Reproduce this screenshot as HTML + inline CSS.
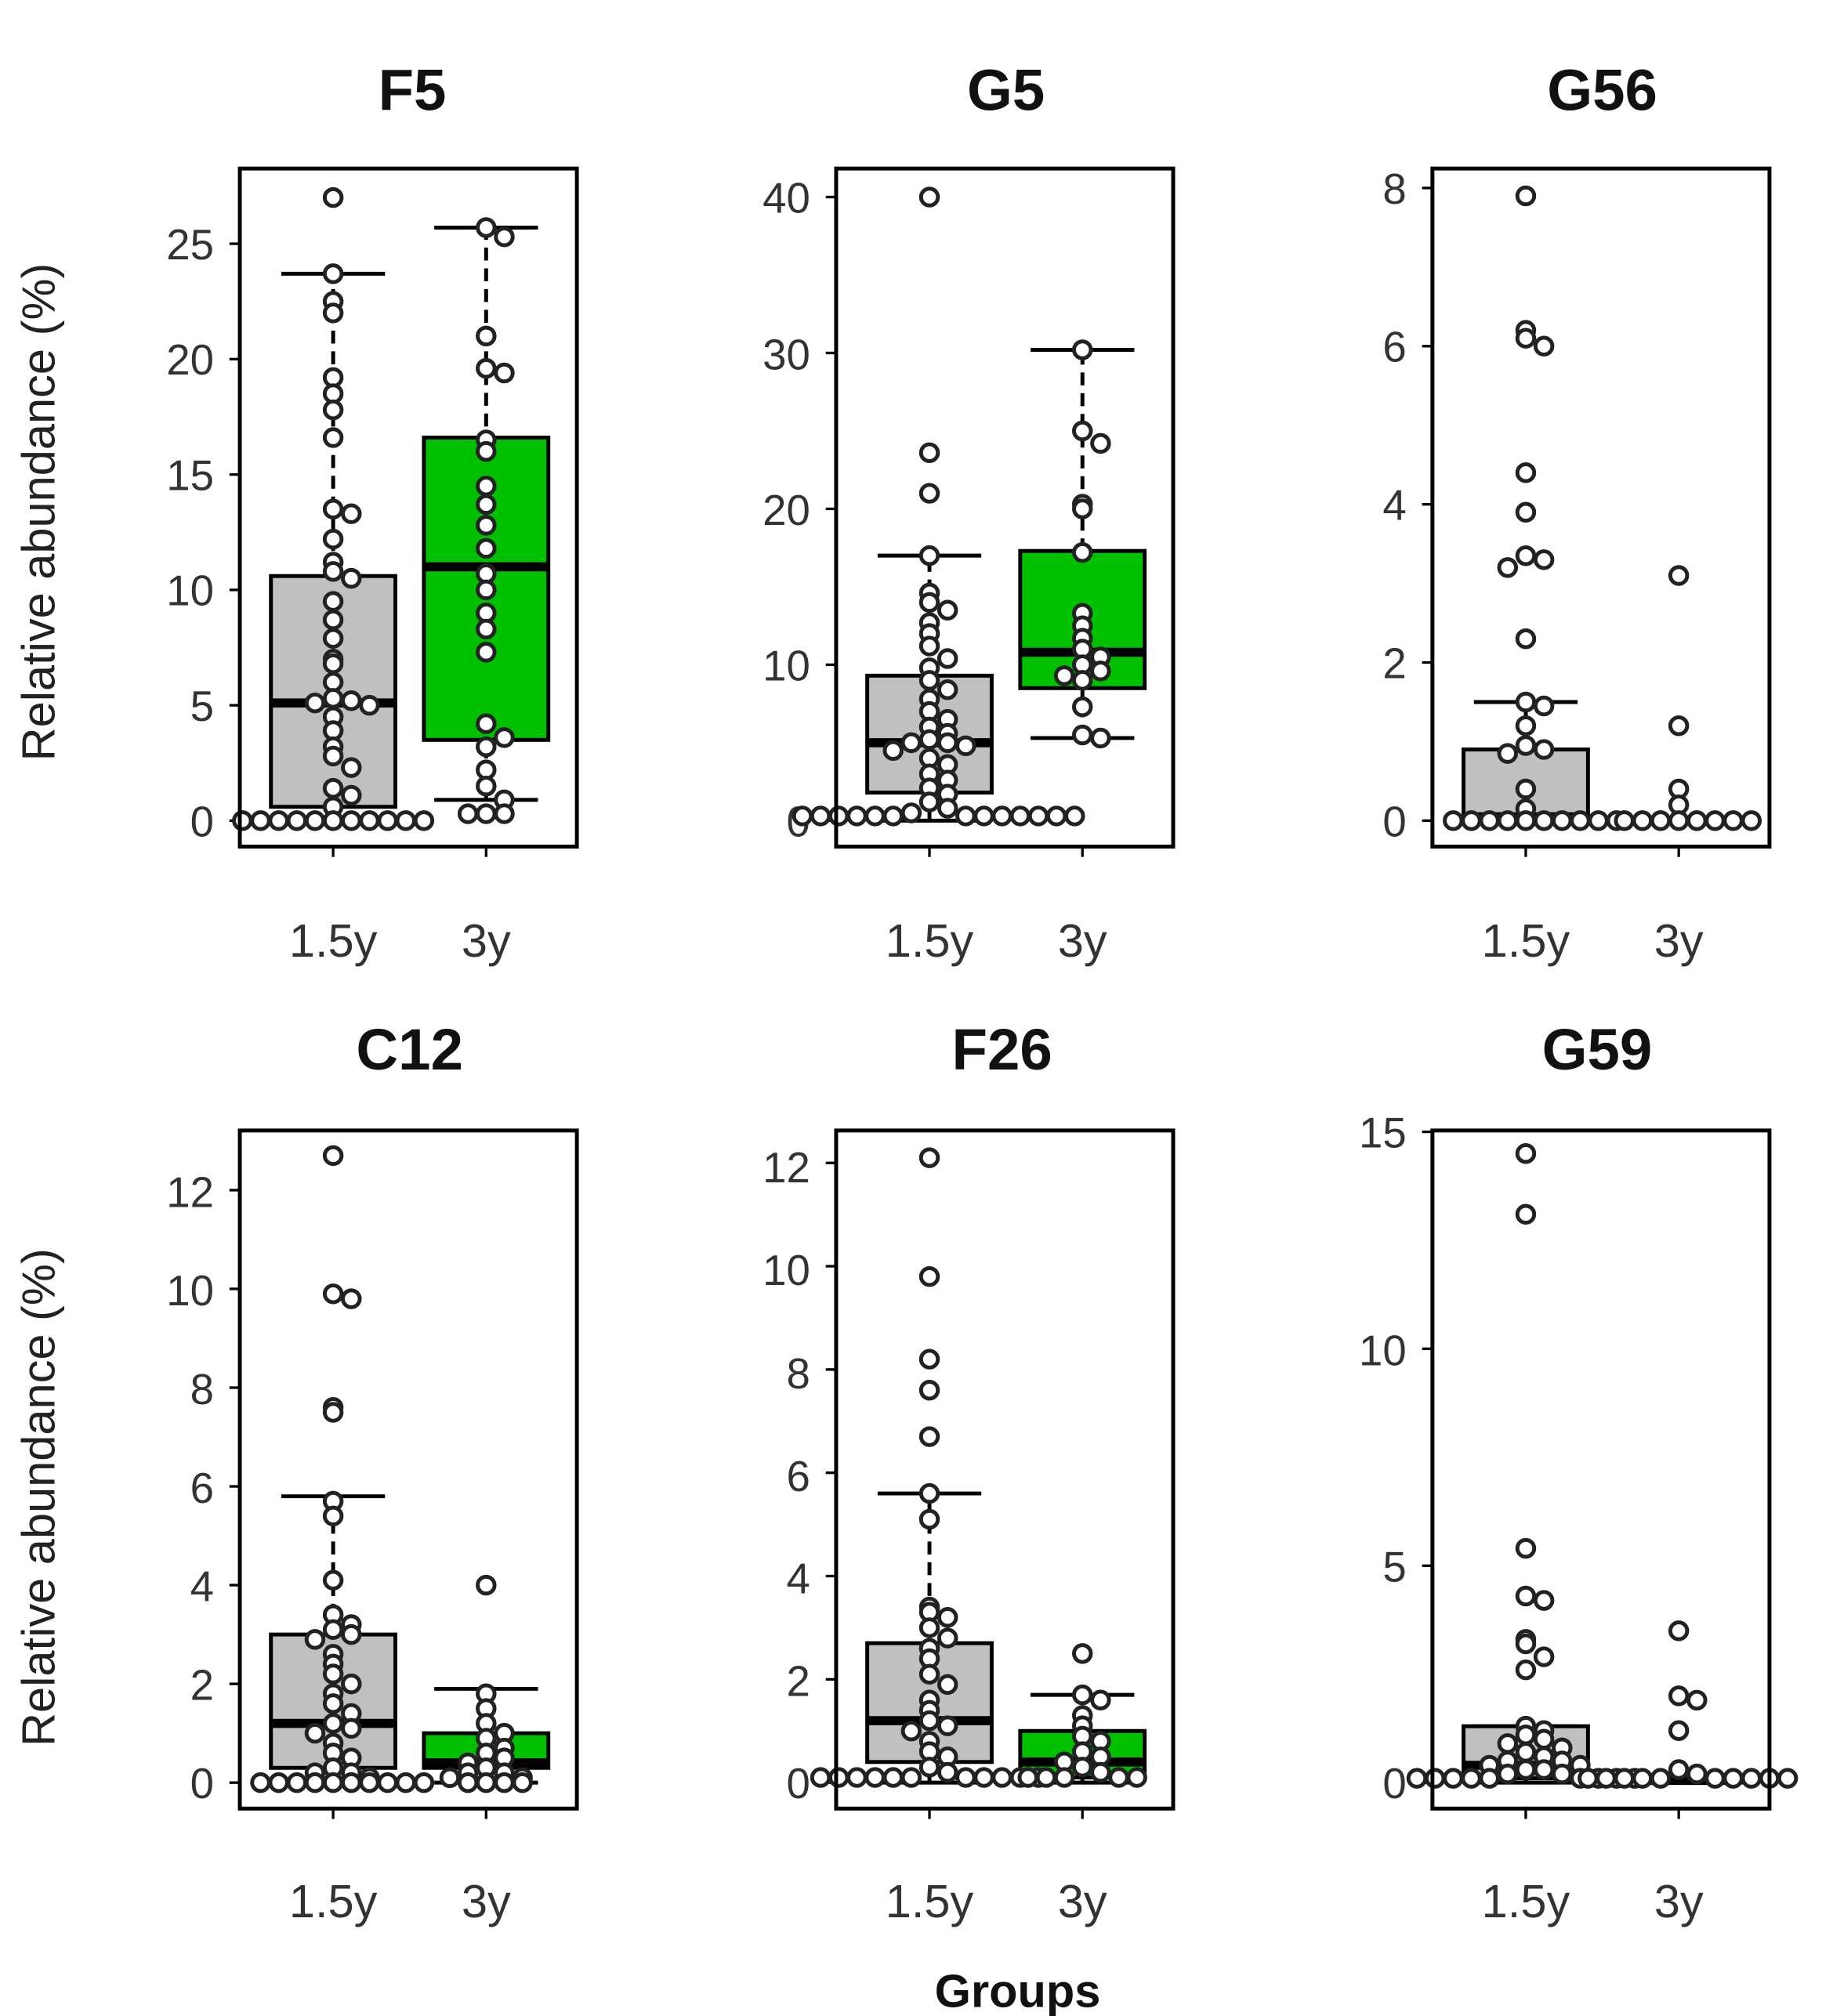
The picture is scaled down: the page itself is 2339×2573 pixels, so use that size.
<!DOCTYPE html>
<html><head><meta charset="utf-8">
<style>html,body{margin:0;padding:0;background:#fff}svg{display:block}</style>
</head><body>
<svg id="s" width="2339" height="2573" viewBox="0 0 1414 1555" preserveAspectRatio="none" xmlns="http://www.w3.org/2000/svg" font-family="'Liberation Sans', sans-serif">
<g font-weight="bold" font-size="45" text-anchor="middle" fill="#111">
<text x="318" y="85">F5</text><text x="776" y="85">G5</text><text x="1236" y="85">G56</text>
<text x="316" y="825">C12</text><text x="773" y="825">F26</text><text x="1232" y="825">G59</text>
</g>
<g font-size="36" fill="#222" text-anchor="middle">
<text transform="translate(42,395) rotate(-90)">Relative abundance (%)</text>
<text transform="translate(42,1155) rotate(-90)">Relative abundance (%)</text>
<text x="785" y="1548" font-weight="bold" fill="#111">Groups</text>
<text x="257" y="738" fill="#333">1.5y</text><text x="375" y="738" fill="#333">3y</text>
<text x="717" y="738" fill="#333">1.5y</text><text x="835" y="738" fill="#333">3y</text>
<text x="1177" y="738" fill="#333">1.5y</text><text x="1295" y="738" fill="#333">3y</text>
<text x="257" y="1479" fill="#333">1.5y</text><text x="375" y="1479" fill="#333">3y</text>
<text x="717" y="1479" fill="#333">1.5y</text><text x="835" y="1479" fill="#333">3y</text>
<text x="1177" y="1479" fill="#333">1.5y</text><text x="1295" y="1479" fill="#333">3y</text>
</g>
<g font-size="33" fill="#333" text-anchor="end">
<text x="165" y="645">0</text><text x="165" y="556">5</text><text x="165" y="467">10</text><text x="165" y="378">15</text><text x="165" y="289">20</text><text x="165" y="200">25</text>
<text x="625" y="645">0</text><text x="625" y="525">10</text><text x="625" y="405">20</text><text x="625" y="285">30</text><text x="625" y="164">40</text>
<text x="1085" y="645">0</text><text x="1085" y="523">2</text><text x="1085" y="401">4</text><text x="1085" y="279">6</text><text x="1085" y="157">8</text>
<text x="165" y="1387">0</text><text x="165" y="1311">2</text><text x="165" y="1235">4</text><text x="165" y="1159">6</text><text x="165" y="1083">8</text><text x="165" y="1007">10</text><text x="165" y="931">12</text>
<text x="625" y="1387">0</text><text x="625" y="1308">2</text><text x="625" y="1229">4</text><text x="625" y="1150">6</text><text x="625" y="1071">8</text><text x="625" y="991">10</text><text x="625" y="912">12</text>
<text x="1085" y="1387">0</text><text x="1085" y="1220">5</text><text x="1085" y="1053">10</text><text x="1085" y="885">15</text>
</g>
<g id="plots"></g>
</svg>
<script>
var NS="http://www.w3.org/2000/svg",G=document.getElementById("plots");
function el(t,a){var e=document.createElementNS(NS,t);for(var k in a)e.setAttribute(k,a[k]);G.appendChild(e);return e;}
function panel(L,T,B,y0,y1,v1,ticks,boxes,pts){
 var sc=function(v){return y0-(y0-y1)*v/v1;};
 ticks.forEach(function(t){el("line",{x1:L-8,x2:L,y1:sc(t),y2:sc(t),stroke:"#000","stroke-width":2});});
 [72,190].forEach(function(o){el("line",{x1:L+o,x2:L+o,y1:B,y2:B+8,stroke:"#000","stroke-width":2});});
 boxes.forEach(function(b,i){var cx=L+(i?190:72);
  el("line",{x1:cx,x2:cx,y1:sc(b[3]),y2:sc(b[1]),stroke:"#000","stroke-width":3,"stroke-dasharray":"10,6"});
  el("line",{x1:cx,x2:cx,y1:sc(b[0]),y2:sc(b[4]),stroke:"#000","stroke-width":3,"stroke-dasharray":"10,6"});
  el("line",{x1:cx-40,x2:cx+40,y1:sc(b[4]),y2:sc(b[4]),stroke:"#000","stroke-width":3});
  el("line",{x1:cx-40,x2:cx+40,y1:sc(b[0]),y2:sc(b[0]),stroke:"#000","stroke-width":3});
  el("rect",{x:cx-48,y:sc(b[3]),width:96,height:Math.max(1,sc(b[1])-sc(b[3])),fill:i?"#00c000":"#c0c0c0",stroke:"#000","stroke-width":3});
  el("line",{x1:cx-48,x2:cx+48,y1:sc(b[2]),y2:sc(b[2]),stroke:"#000","stroke-width":7});
 });
 pts.forEach(function(arr,i){var cx=L+(i?190:72);var rows={};
  arr.slice().sort(function(a,b){return b-a}).forEach(function(v){var y=sc(v);var k=Math.round(y/12);rows[k]=rows[k]||[];rows[k].push(y);});
  for(var k in rows){rows[k].forEach(function(y,j){var off=(j%2?1:-1)*Math.ceil(j/2)*14;
   el("circle",{cx:cx+off,cy:y,r:6.5,fill:"#fff",stroke:"#222","stroke-width":3});});}
 });
 el("rect",{x:L,y:T,width:260,height:B-T,fill:"none",stroke:"#000","stroke-width":3});
}
function z(n,v){var a=[];for(var i=0;i<n;i++)a.push(v||0);return a;}
panel(185,130,653,633,188,25,[0,5,10,15,20,25],
 [[0,0.6,5.1,10.6,23.7],[0.9,3.5,11,16.6,25.7]],
 [[27,23.7,22.5,22,19.2,18.5,17.8,16.6,13.5,13.3,12.2,11.2,10.8,10.5,9.5,8.7,7.9,7,6.8,6,5.3,5.2,5.1,5,4.5,3.9,3.2,2.8,2.3,1.4,1.1,0.6].concat(z(11)),
  [25.7,25.3,21,19.6,19.4,16.5,16,14.5,13.7,12.8,11.8,10.7,10,9,8.3,7.3,4.2,3.6,3.2,2.2,1.5,0.9,0.3,0.3,0.3]]);
panel(645,130,653,633,152,40,[0,10,20,30,40],
 [[0,1.8,5,9.3,17],[5.3,8.5,10.8,17.3,30.2]],
 [[40,23.6,21,17,14.6,14,13.5,12.7,12,11.2,10.4,9.8,9,8.4,7.8,7,6.5,6,5.6,5.2,5,5,4.8,4.5,4,3.6,3,2.6,2.1,1.7,1.2,0.8,0.5].concat(z(13,0.3)),
  [30.2,25,24.2,20.3,20,17.2,13.3,12.5,11.7,11,10.5,10,9.6,9.3,9,7.3,5.5,5.3]]);
panel(1105,130,653,633,145,8,[0,2,4,6,8],
 [[0,0.05,0.05,0.9,1.5],[0,0,0,0,0]],
 [[7.9,6.2,6.1,6,4.4,3.9,3.35,3.3,3.2,2.3,1.5,1.45,1.2,0.95,0.9,0.85,0.4,0.15].concat(z(10)),
  [3.1,1.2,0.4,0.2].concat(z(8))]);
panel(185,872,1395,1375,918,12,[0,2,4,6,8,10,12],
 [[0,0.3,1.2,3,5.8],[0,0.3,0.4,1,1.9]],
 [[12.7,9.9,9.8,7.6,7.5,5.7,5.4,4.1,3.4,3.2,3.1,3,2.9,2.6,2.4,2.2,2,1.8,1.6,1.4,1.2,1.1,1,0.8,0.6,0.5,0.3,0.2,0.2,0.1].concat(z(10,0)),
  [4,1.8,1.5,1.2,1,0.9,0.7,0.6,0.5,0.4,0.3,0.2,0.2,0.1,0.1,0,0,0,0]]);
panel(645,872,1395,1375,897,12,[0,2,4,6,8,10,12],
 [[0,0.4,1.2,2.7,5.6],[0,0.1,0.4,1,1.7]],
 [[12.1,9.8,8.2,7.6,6.7,5.6,5.1,3.4,3.3,3.2,3,2.8,2.6,2.4,2.1,1.9,1.6,1.4,1.2,1.1,1,0.8,0.6,0.5,0.3,0.2,0.1].concat(z(10,0.1)),
  [2.5,1.7,1.6,1.3,1.1,0.9,0.8,0.6,0.5,0.4,0.3,0.2,0.1,0.1,0.1,0.1,0.1]]);
panel(1105,872,1395,1375,873,15,[0,5,10,15],
 [[0,0.1,0.4,1.3,1.3],[0,0,0.05,0.1,0.1]],
 [[14.5,13.1,5.4,4.3,4.2,3.3,3.2,2.9,2.6,1.3,1.2,1.1,1,0.9,0.8,0.7,0.6,0.5,0.5,0.4,0.4,0.3,0.3,0.2,0.2,0.1].concat(z(8,0.1)),
  [3.5,2,1.9,1.2,0.3,0.2].concat(z(10,0.1))]);
</script>
</body></html>
